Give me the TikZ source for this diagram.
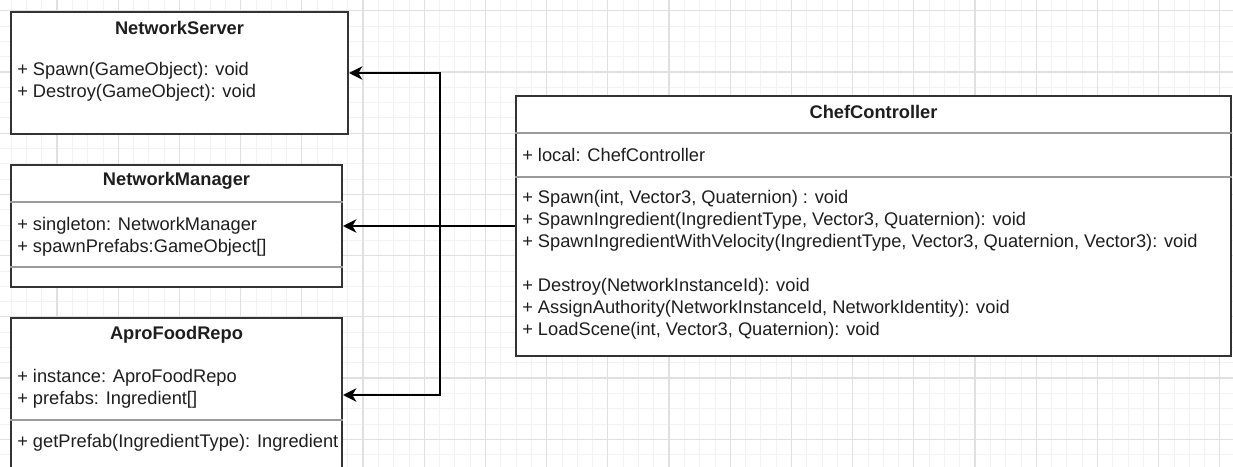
\documentclass[tikz,border=0pt]{standalone}
\usepackage{fontspec}
\setmainfont{Liberation Sans}
\usetikzlibrary{arrows.meta,fit}
\definecolor{borde}{HTML}{333333}
\definecolor{divisor}{HTML}{9A9A9A}
\definecolor{rejilla}{HTML}{E0E0E0}
\definecolor{subrejilla}{HTML}{F2F2F2}
\definecolor{texto}{HTML}{1E1E1E}
\tikzset{
  clase/.style={draw=borde, line width=1.5pt, fill=white, inner sep=0pt},
  titulo/.style={font=\fontsize{13.7}{16.5}\selectfont\bfseries, inner sep=0pt, text=texto},
  miembros/.style={align=left, anchor=west, inner sep=0pt, text=texto},
  divisor/.style={draw=divisor, line width=0.8pt},
  conector/.style={line width=1.5pt, -{Stealth[length=10pt,width=10pt,inset=3pt]}},
}
\begin{document}
\begin{tikzpicture}[x=0.75pt, y=-0.75pt, font=\fontsize{13.7}{16.5}\selectfont]
        \clip (0,0) rectangle (1233,467);
        % Cuadricula
        \foreach \i in {0,...,81} {
            \draw[subrejilla, line width=0.6pt] ({-4.2+15.3*\i},0) -- ++(0,467);
        }
        \foreach \i in {0,...,31} {
            \draw[subrejilla, line width=0.6pt] (0,{-4.5+15.3*\i}) -- ++(1233,0);
        }
        \foreach \i in {0,...,19} {
            \draw[rejilla, line width=0.8pt] ({57+61.2*\i},0) -- ++(0,467);
        }
        \foreach \i in {0,...,7} {
            \draw[rejilla, line width=0.8pt] (0,{10.8+61.2*\i}) -- ++(1233,0);
        }

        % NetworkServer
        \node[clase, fit={(11,12) (348,134)}] (server) {};
        \node[titulo] (serverTitulo) at (179.5,28) {NetworkServer};
        \node[miembros] (serverOps) at (17,82) {+ Spawn(GameObject): void\\+ Destroy(GameObject): void};

        % NetworkManager
        \node[clase, fit={(11,165) (342,287)}] (manager) {};
        \node[titulo] (managerTitulo) at (176.5,181) {NetworkManager};
        \draw[divisor] (manager.west |- 0,202) -- (manager.east |- 0,202);
        \node[miembros] (managerAttr) at (17,236.5) {+ singleton: NetworkManager\\+ spawnPrefabs:GameObject[]};
        \draw[divisor] (manager.west |- 0,267) -- (manager.east |- 0,267);

        % AproFoodRepo
        \node[clase, fit={(11,318) (342,472)}] (repo) {};
        \node[titulo] (repoTitulo) at (176.5,335) {AproFoodRepo};
        \node[miembros] (repoAttr) at (17,389) {+ instance: AproFoodRepo\\+ prefabs: Ingredient[]};
        \draw[divisor] (repo.west |- 0,420) -- (repo.east |- 0,420);
        \node[miembros] (repoOps) at (17,443) {+ getPrefab(IngredientType): Ingredient};

        % ChefController
        \node[clase, fit={(516,96) (1231,356)}] (chef) {};
        \node[titulo] (chefTitulo) at (873.5,112) {ChefController};
        \draw[divisor] (chef.west |- 0,133) -- (chef.east |- 0,133);
        \node[miembros] (chefAttr) at (522,155) {+ local: ChefController};
        \draw[divisor] (chef.west |- 0,177) -- (chef.east |- 0,177);
        \node[miembros] (chefOps) at (522,264.5) {+ Spawn(int, Vector3, Quaternion) : void\\
            + SpawnIngredient(IngredientType, Vector3, Quaternion): void\\
            + SpawnIngredientWithVelocity(IngredientType, Vector3, Quaternion, Vector3): void\\[16.5pt]
            + Destroy(NetworkInstanceId): void\\
            + AssignAuthority(NetworkInstanceId, NetworkIdentity): void\\
            + LoadScene(int, Vector3, Quaternion): void};

        % Conectores
        \coordinate (union) at (440,226);
        \draw[conector] (chef.west) -- (manager.east);
        \draw[conector] (union) |- (server.east);
        \draw[conector] (union) |- (repo.east);
\end{tikzpicture}
\end{document}
